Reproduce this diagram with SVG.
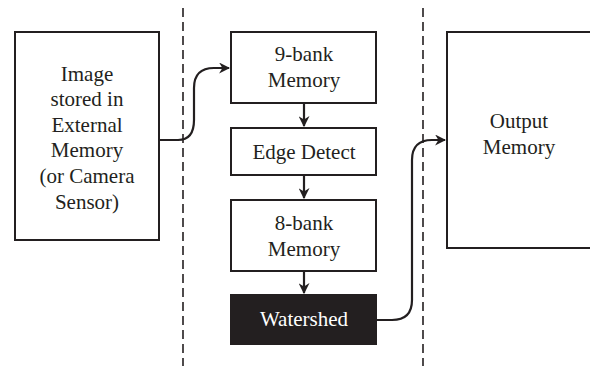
<svg xmlns="http://www.w3.org/2000/svg" width="590" height="366" viewBox="0 0 590 366">
<style>
.box{fill:#fff;stroke:#231f20;stroke-width:2}
.blk{fill:#231f20;stroke:#231f20;stroke-width:2}
.t{font-size:21px;fill:#231f20;text-anchor:middle}
.tw{fill:#fff}
.dash{stroke:#231f20;stroke-width:1.6;stroke-dasharray:9 5;fill:none}
.c{fill:none;stroke:#231f20;stroke-width:2.2}
</style>
<defs>
<marker id="ah" viewBox="0 0 10 10" refX="9" refY="5" markerWidth="5" markerHeight="5" orient="auto" markerUnits="strokeWidth">
<path d="M0,0 L10,5 L0,10 L3,5 Z" fill="#231f20"/>
</marker>
</defs>
<g id="dividers">
<line class="dash" x1="183" y1="8" x2="183" y2="366"/>
<line class="dash" x1="423" y1="8" x2="423" y2="366"/>
</g>
<g font-family="Liberation Serif">
<g id="input">
<rect class="box" x="15" y="32" width="144" height="208"/>
<text class="t" x="87" y="81">Image</text>
<text class="t" x="87" y="106">stored in</text>
<text class="t" x="87" y="132">External</text>
<text class="t" x="87" y="157">Memory</text>
<text class="t" x="87" y="183">(or Camera</text>
<text class="t" x="87" y="209">Sensor)</text>
</g>
<g id="bank9">
<rect class="box" x="231" y="32" width="145" height="71"/>
<text class="t" x="304" y="61">9-bank</text>
<text class="t" x="304" y="87">Memory</text>
</g>
<g id="edge">
<rect class="box" x="231" y="128" width="145" height="47"/>
<text class="t" x="304" y="159">Edge Detect</text>
</g>
<g id="bank8">
<rect class="box" x="231" y="200" width="145" height="71"/>
<text class="t" x="304" y="230">8-bank</text>
<text class="t" x="304" y="256">Memory</text>
</g>
<g id="watershed">
<rect class="blk" x="231" y="295" width="145" height="49"/>
<text class="t tw" x="304" y="326">Watershed</text>
</g>
<g id="output">
<rect class="box" x="447" y="32" width="150" height="216"/>
<text class="t" x="519" y="128">Output</text>
<text class="t" x="519" y="154">Memory</text>
</g>
</g>
<g id="connectors">
<path class="c" marker-end="url(#ah)" d="M159,140 L178,140 Q194,140 194,120 L194,88 Q194,68 214,68 L229,68"/>
<line class="c" marker-end="url(#ah)" x1="304" y1="103" x2="304" y2="126"/>
<line class="c" marker-end="url(#ah)" x1="304" y1="175" x2="304" y2="198"/>
<line class="c" marker-end="url(#ah)" x1="304" y1="271" x2="304" y2="293"/>
<path class="c" marker-end="url(#ah)" d="M376,320 L392,320 Q412,320 412,300 L412,160 Q412,140 432,140 L445,140"/>
</g>
</svg>
